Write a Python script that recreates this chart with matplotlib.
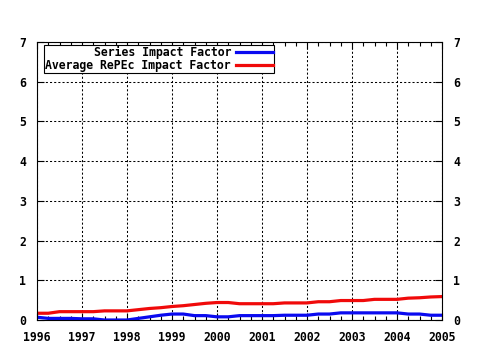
import numpy as np
import matplotlib
matplotlib.use("Agg")
import matplotlib.pyplot as plt
from matplotlib.ticker import MultipleLocator

# quarterly sample points
years = [1996.00, 1996.25, 1996.50, 1996.75, 1997.00, 1997.25, 1997.50, 1997.75,
         1998.00, 1998.25, 1998.50, 1998.75, 1999.00, 1999.25, 1999.50, 1999.75,
         2000.00, 2000.25, 2000.50, 2000.75, 2001.00, 2001.25, 2001.50, 2001.75,
         2002.00, 2002.25, 2002.50, 2002.75, 2003.00, 2003.25, 2003.50, 2003.75,
         2004.00, 2004.25, 2004.50, 2004.75, 2005.00]

series_if = [0.07, 0.04, 0.04, 0.04, 0.03, 0.03, 0.00, 0.00,
             0.00, 0.04, 0.08, 0.12, 0.15, 0.15, 0.11, 0.11,
             0.08, 0.08, 0.11, 0.11, 0.11, 0.11, 0.12, 0.12,
             0.12, 0.15, 0.15, 0.18, 0.18, 0.18, 0.18, 0.18,
             0.18, 0.15, 0.15, 0.12, 0.12]

repec_if = [0.17, 0.17, 0.21, 0.21, 0.21, 0.21, 0.23, 0.23,
            0.23, 0.26, 0.29, 0.31, 0.34, 0.36, 0.39, 0.42,
            0.44, 0.44, 0.41, 0.41, 0.41, 0.41, 0.43, 0.43,
            0.43, 0.46, 0.46, 0.49, 0.49, 0.49, 0.52, 0.52,
            0.52, 0.55, 0.56, 0.58, 0.59]

labels = ["Series Impact Factor", "Average RePEc Impact Factor"]

plt.rcParams['font.family'] = ['DejaVu Sans Mono']
plt.rcParams['font.weight'] = 'bold'
plt.rcParams['font.size'] = 8.3

fig = plt.figure(figsize=(4.8, 3.5), dpi=100)
ax = fig.add_axes([37/480, 1 - 320/350, 405/480, 278/350])

ax.plot(years, series_if, color='#0a0af0', lw=2.3, label=labels[0])
ax.plot(years, repec_if, color='#f00a0a', lw=2.3, label=labels[1])

ax.set_xlim(1996, 2005)
ax.set_ylim(0, 7)
ax.xaxis.set_major_locator(MultipleLocator(1))
ax.xaxis.set_minor_locator(MultipleLocator(0.25))
ax.yaxis.set_major_locator(MultipleLocator(1))
ax.xaxis.set_major_formatter(lambda v, p: f"{int(round(v))}")

ax.tick_params(which='both', direction='in', top=True, right=True,
               labelright=True, color='black', width=0.8)
ax.tick_params(which='major', length=5, pad=8)
ax.tick_params(which='minor', length=3)
ax.grid(True, which='major', color='black', linestyle=(0, (2, 2)), lw=0.75)
for s in ax.spines.values():
    s.set_linewidth(0.8)

leg = ax.legend(loc='upper left', bbox_to_anchor=(7/405, 1 - 2.5/278),
                markerfirst=False, fancybox=False, framealpha=1,
                edgecolor='black', borderaxespad=0, handlelength=3.2,
                handletextpad=0.45, labelspacing=0.0, borderpad=0.12)
leg.get_frame().set_linewidth(0.8)

fig.savefig("out.png", dpi=100)
